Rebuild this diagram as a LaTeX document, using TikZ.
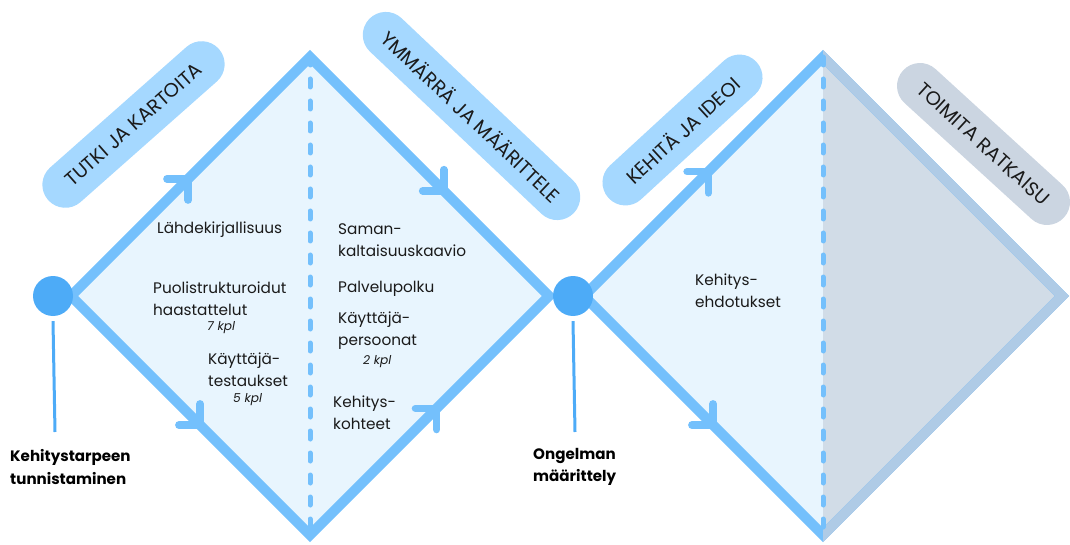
\documentclass[tikz,border=0pt]{standalone}
\usepackage{fontspec}
\setmainfont{Poppins}
\usetikzlibrary{decorations.markings}

\definecolor{edgeblue}{HTML}{74C0FC}
\definecolor{fillblue}{HTML}{E8F5FE}
\definecolor{dotblue}{HTML}{4DABF7}
\definecolor{pillblue}{HTML}{A5D8FF}
\definecolor{pillgrey}{HTML}{CBD5E1}
\definecolor{greyfill}{HTML}{D1DCE7}
\definecolor{greyedge}{HTML}{AFCBE6}
\definecolor{ink}{HTML}{1A1A1A}

\tikzset{
  edge/.style={draw=edgeblue, line width=10pt, line join=miter},
  midline/.style={draw=edgeblue, line width=5pt, line cap=round, dash pattern=on 8pt off 14pt},
  flowarrow/.style={decorate, decoration={markings, mark=at position #1 with {
      \draw[edgeblue, line width=7.5pt, line cap=round, line join=round]
        (-15pt,15pt) -- (0pt,0pt) -- (-15pt,-15pt);}}},
  dot/.style={circle, fill=dotblue, minimum size=40pt, inner sep=0pt},
  stem/.style={draw=dotblue, line width=3pt},
  pill/.style={fill=pillblue, rounded corners=23pt, minimum height=46pt, inner sep=0pt,
    text=ink, font=\fontsize{19.5}{19.5}\selectfont},
  body/.style={anchor=west, inner sep=0pt, align=left, text=ink,
    font=\fontsize{15.3}{22}\selectfont},
  count/.style={anchor=west, inner sep=0pt, text=ink,
    font=\fontsize{12.2}{13}\selectfont\itshape},
  milestone/.style={anchor=west, inner sep=0pt, align=left, text=black,
    font=\fontsize{15.1}{22.5}\selectfont\bfseries},
}

\begin{document}
\begin{tikzpicture}[x=1pt, y=-1pt]
\useasboundingbox (0,0) rectangle (1070,545);

% corner points of the two diamonds
\coordinate (L1) at (71,296);  \coordinate (T1) at (310,57);
\coordinate (R1) at (549,296); \coordinate (B1) at (310,535);
\coordinate (L2) at (584,296); \coordinate (T2) at (823,57);
\coordinate (R2) at (1062,296); \coordinate (B2) at (823,535);

% first diamond: explore and define
\path[fill=fillblue] (L1) -- (T1) -- (R1) -- (B1) -- cycle;
\draw[edge] (L1) -- (T1) -- (R1) -- (B1) -- cycle;

% second diamond: develop (blue half) and deliver (grey half)
\path[fill=fillblue] (L2) -- (T2) -- (B2) -- cycle;
\path[fill=greyfill] (T2) -- (R2) -- (B2) -- cycle;
\draw[edge] (L2) -- (T2) -- (R2) -- (B2) -- cycle;
\begin{scope}
  \clip (823,0) rectangle (1070,545);
  \draw[edge, draw=greyedge] (L2) -- (T2) -- (R2) -- (B2) -- cycle;
\end{scope}

% dashed centre lines
\draw[midline] (T1) -- (B1);
\draw[midline] (T2) -- (B2);

% direction arrows on the edges
\path[flowarrow=0.49] (L1) -- (T1);
\path[flowarrow=0.54] (L1) -- (B1);
\path[flowarrow=0.56] (T1) -- (R1);
\path[flowarrow=0.53] (B1) -- (R1);
\path[flowarrow=0.52] (L2) -- (T2);
\path[flowarrow=0.54] (L2) -- (B2);

% phase labels
\node[pill, minimum width=228pt, rotate=41.5] (p1) at (133.5,124.5) {TUTKI JA KARTOITA};
\node[pill, minimum width=282pt, rotate=-43.4] (p2) at (471.5,116) {YMMÄRRÄ JA MÄÄRITTELE};
\node[pill, minimum width=201pt, rotate=42.6] (p3) at (682.5,130) {KEHITÄ JA IDEOI};
\node[pill, fill=pillgrey, minimum width=218pt, rotate=-42.4] (p4) at (983.5,144) {TOIMITA RATKAISU};

% milestones
\node[dot] (c1) at (53,296) {};
\node[dot] (c2) at (573,296) {};
\coordinate (s1) at (55,432);
\coordinate (s2) at (575,432);
\draw[stem] ([yshift=-5pt]c1.south) -- (s1);
\draw[stem] ([yshift=-5pt]c2.south) -- (s2);
\node[milestone] (m1) at (10,467) {Kehitystarpeen\\tunnistaminen};
\node[milestone] (m2) at (533,467) {Ongelman\\määrittely};

% methods inside the first diamond
\node[body] (t1) at (157,230) {Lähdekirjallisuus};
\node[body] (t2) at (153,298.5) {Puolistrukturoidut\\haastattelut};
\node[count] (k1) at (207,328) {7 kpl};
\node[body] (t3) at (208,370) {Käyttäjä-\\testaukset};
\node[count] (k2) at (233,400) {5 kpl};
\node[body] (t4) at (338,240.5) {Saman-\\kaltaisuuskaavio};
\node[body] (t5) at (338,289) {Palvelupolku};
\node[body] (t6) at (338,331) {Käyttäjä-\\persoonat};
\node[count] (k3) at (363,362) {2 kpl};
\node[body] (t7) at (333,413) {Kehitys-\\kohteet};

% outcome inside the second diamond
\node[body] (t8) at (695,291) {Kehitys-\\ehdotukset};
\end{tikzpicture}
\end{document}
